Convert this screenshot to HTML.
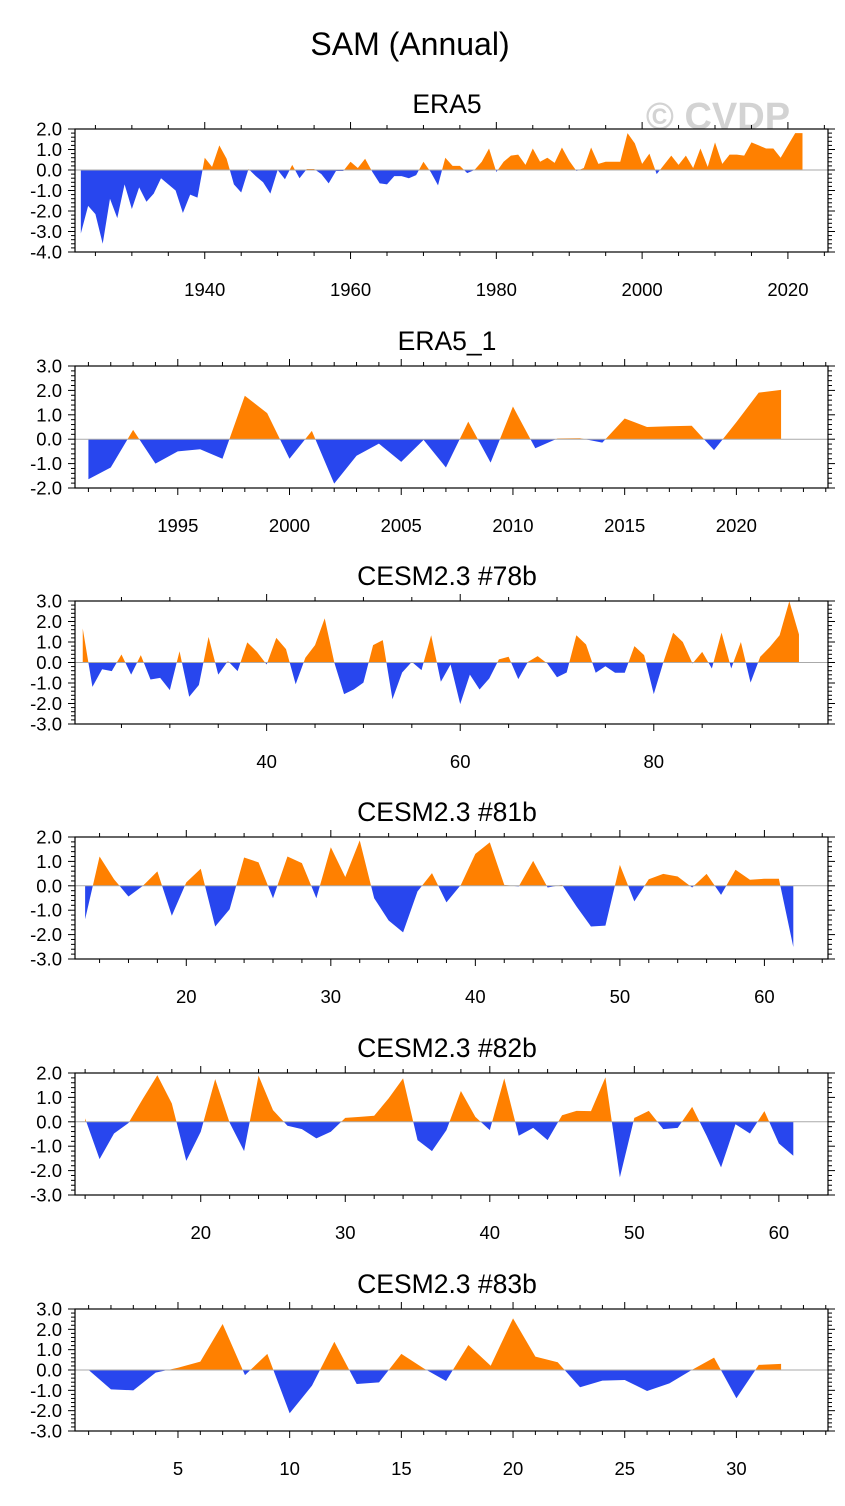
<!DOCTYPE html>
<html><head><meta charset="utf-8"><style>
html,body{margin:0;padding:0;background:#fff;}
svg{display:block;font-family:"Liberation Sans",sans-serif;}
</style></head><body>
<svg id="chart" width="845" height="1506" viewBox="0 0 845 1506" xmlns="http://www.w3.org/2000/svg">
<text x="410" y="55" font-size="32" text-anchor="middle">SAM (Annual)</text>
<text x="718" y="129" font-size="38" font-weight="bold" fill="#d3d3d3" text-anchor="middle">© CVDP</text>
</svg>
<script>
const era5Years = Array.from({length:100},(_, i)=>1923+i);
const era5Values = [-3.1,-1.75,-2.15,-3.6,-1.4,-2.35,-0.7,-1.9,-0.85,-1.55,-1.15,-0.4,-0.7,-1.0,-2.1,-1.2,-1.35,0.6,0.15,1.2,0.55,-0.7,-1.1,0.05,-0.3,-0.6,-1.15,0.0,-0.45,0.25,-0.4,0.05,0.05,-0.2,-0.65,-0.05,-0.05,0.4,0.1,0.55,-0.1,-0.65,-0.7,-0.3,-0.3,-0.4,-0.25,0.4,-0.1,-0.75,0.6,0.2,0.2,-0.15,0.0,0.4,1.05,-0.1,0.4,0.7,0.75,0.25,1.05,0.4,0.6,0.35,1.1,0.45,-0.05,0.1,1.1,0.3,0.4,0.4,0.4,1.8,1.3,0.3,0.8,-0.2,0.25,0.7,0.25,0.7,0.1,1.05,0.15,1.35,0.3,0.75,0.75,0.7,1.35,1.2,1.05,1.05,0.6,1.2,1.8,1.8];
const era51Years = Array.from({length:32},(_, i)=>1991+i);
const era51Values = [-1.64,-1.16,0.38,-1.0,-0.5,-0.41,-0.8,1.78,1.07,-0.8,0.34,-1.82,-0.68,-0.18,-0.93,-0.03,-1.16,0.72,-0.96,1.34,-0.37,0.03,0.04,-0.14,0.85,0.5,0.53,0.55,-0.45,0.7,1.91,2.02];
const c78Years = Array.from({length:75},(_, i)=>21+i);
const c78Values = [1.66,-1.19,-0.33,-0.42,0.39,-0.59,0.36,-0.83,-0.75,-1.35,0.55,-1.67,-1.1,1.25,-0.59,0.07,-0.42,0.98,0.52,-0.1,1.2,0.65,-1.06,0.23,0.85,2.15,-0.02,-1.54,-1.32,-0.98,0.85,1.09,-1.79,-0.49,0.03,-0.37,1.33,-0.94,-0.1,-2.03,-0.59,-1.32,-0.78,0.15,0.28,-0.81,0.03,0.31,-0.05,-0.72,-0.49,1.33,0.88,-0.5,-0.18,-0.5,-0.5,0.8,0.36,-1.54,0.03,1.45,1.0,-0.05,0.52,-0.29,1.46,-0.29,1.0,-0.98,0.28,0.76,1.33,2.99,1.37];
const c81Years = Array.from({length:50},(_, i)=>13+i);
const c81Values = [-1.37,1.2,0.27,-0.44,0.0,0.59,-1.23,0.14,0.7,-1.67,-0.96,1.16,0.96,-0.51,1.2,0.93,-0.51,1.58,0.36,1.86,-0.51,-1.42,-1.91,-0.23,0.52,-0.68,0.04,1.31,1.78,0.04,-0.03,1.02,-0.07,0.04,-0.85,-1.67,-1.63,0.86,-0.64,0.27,0.49,0.38,-0.07,0.49,-0.37,0.66,0.25,0.29,0.29,-2.51];
const c82Years = Array.from({length:50},(_, i)=>12+i);
const c82Values = [0.14,-1.53,-0.48,-0.05,0.95,1.91,0.75,-1.6,-0.41,1.75,-0.04,-1.2,1.89,0.48,-0.16,-0.3,-0.68,-0.41,0.16,0.2,0.25,0.96,1.78,-0.75,-1.2,-0.34,1.26,0.2,-0.34,1.78,-0.57,-0.25,-0.75,0.27,0.45,0.44,1.82,-2.28,0.16,0.45,-0.3,-0.25,0.61,-0.57,-1.87,-0.1,-0.48,0.44,-0.89,-1.39];
const c83Years = Array.from({length:32},(_, i)=>1+i);
const c83Values = [0.0,-0.95,-1.0,-0.13,0.11,0.41,2.26,-0.25,0.79,-2.13,-0.77,1.39,-0.69,-0.61,0.79,0.08,-0.54,1.23,0.21,2.54,0.66,0.38,-0.85,-0.52,-0.49,-1.03,-0.66,0.0,0.61,-1.39,0.25,0.3];
const panelTitles = ["ERA5","ERA5_1","CESM2.3 #78b","CESM2.3 #81b","CESM2.3 #82b","CESM2.3 #83b"];

const NS="http://www.w3.org/2000/svg";
const svg=document.getElementById('chart');
function mk(tag,attrs,parent){const e=document.createElementNS(NS,tag);for(const k in attrs)e.setAttribute(k,attrs[k]);(parent||svg).appendChild(e);return e;}

const panels=[
 {name:'era5',years:era5Years,vals:era5Values,top:129,bot:252,ymin:-4,ymax:2,xmin:1922.2,xmax:2025.5,xmaj:20,xmin2:5,xlab:[1940,1960,1980,2000,2020]},
 {name:'era5-1',years:era51Years,vals:era51Values,top:366,bot:488,ymin:-2,ymax:3,xmin:1990.4,xmax:2024.1,xmaj:5,xmin2:1,xlab:[1995,2000,2005,2010,2015,2020]},
 {name:'cesm-78b',years:c78Years,vals:c78Values,top:601,bot:724,ymin:-3,ymax:3,xmin:20.2,xmax:98.0,xmaj:20,xmin2:5,xlab:[40,60,80]},
 {name:'cesm-81b',years:c81Years,vals:c81Values,top:837,bot:959,ymin:-3,ymax:2,xmin:12.3,xmax:64.4,xmaj:10,xmin2:2,xlab:[20,30,40,50,60]},
 {name:'cesm-82b',years:c82Years,vals:c82Values,top:1073,bot:1195,ymin:-3,ymax:2,xmin:11.3,xmax:63.4,xmaj:10,xmin2:2,xlab:[20,30,40,50,60]},
 {name:'cesm-83b',years:c83Years,vals:c83Values,top:1309,bot:1431,ymin:-3,ymax:3,xmin:0.39,xmax:34.1,xmaj:5,xmin2:1,xlab:[5,10,15,20,25,30]}
];
const L=75,R=828;
panels.forEach((p,pi)=>{
 const g=mk('g',{});
 
 
 const sx=v=>L+(v-p.xmin)/(p.xmax-p.xmin)*(R-L);
 const sy=v=>p.bot-(v-p.ymin)/(p.ymax-p.ymin)*(p.bot-p.top);
 const z=sy(0);
 const t=mk('text',{x:447,y:p.top-16,'font-size':26.5,'text-anchor':'middle'},g);
 t.textContent=panelTitles[pi];
 
 
 const cpA=mk('clipPath',{id:'ca'+pi},g);mk('rect',{x:L,y:p.top,width:R-L,height:z-p.top},cpA);
 const cpB=mk('clipPath',{id:'cb'+pi},g);mk('rect',{x:L,y:z,width:R-L,height:p.bot-z},cpB);
 let pts=`${sx(p.years[0])},${z} `+p.years.map((y,i)=>`${sx(y)},${sy(p.vals[i])}`).join(' ')+` ${sx(p.years[p.years.length-1])},${z}`;
 const pa=mk('polygon',{points:pts,fill:'#ff8000','clip-path':`url(#ca${pi})`},g);
 
 
 const pb=mk('polygon',{points:pts,fill:'#2846ee','clip-path':`url(#cb${pi})`},g);
 
 
 const zl=mk('line',{x1:L,x2:R,y1:z,y2:z,stroke:'#aaa','stroke-width':1},g);
 
 
 const box=mk('rect',{x:L,y:p.top,width:R-L,height:p.bot-p.top,fill:'none',stroke:'#000','stroke-width':1.2},g);
 
 
 for(let k=Math.round(p.ymin*5);k<=Math.round(p.ymax*5);k++){
  const v=k/5,y=sy(v),maj=(k%5===0),len=maj?7:4;
  mk('line',{x1:L-len,x2:L,y1:y,y2:y,stroke:'#000','stroke-width':1},g);
  mk('line',{x1:R,x2:R+len,y1:y,y2:y,stroke:'#000','stroke-width':1},g);
  if(maj){const tl=mk('text',{x:L-13,y:y+6.5,'font-size':18.5,'text-anchor':'end'},g);tl.textContent=v.toFixed(1);
   
   }
 }
 const s=Math.ceil(p.xmin/p.xmin2)*p.xmin2;
 for(let v=s;v<=p.xmax;v+=p.xmin2){
  const x=sx(v),maj=(Math.abs(v%p.xmaj)<1e-6),len=maj?7:4;
  mk('line',{x1:x,x2:x,y1:p.bot,y2:p.bot+len,stroke:'#000','stroke-width':1},g);
  mk('line',{x1:x,x2:x,y1:p.top-len,y2:p.top,stroke:'#000','stroke-width':1},g);
 }
 p.xlab.forEach(v=>{const tl=mk('text',{x:sx(v),y:p.bot+44,'font-size':18.5,'text-anchor':'middle'},g);tl.textContent=v;
  
  });
});
</script>
</body></html>
